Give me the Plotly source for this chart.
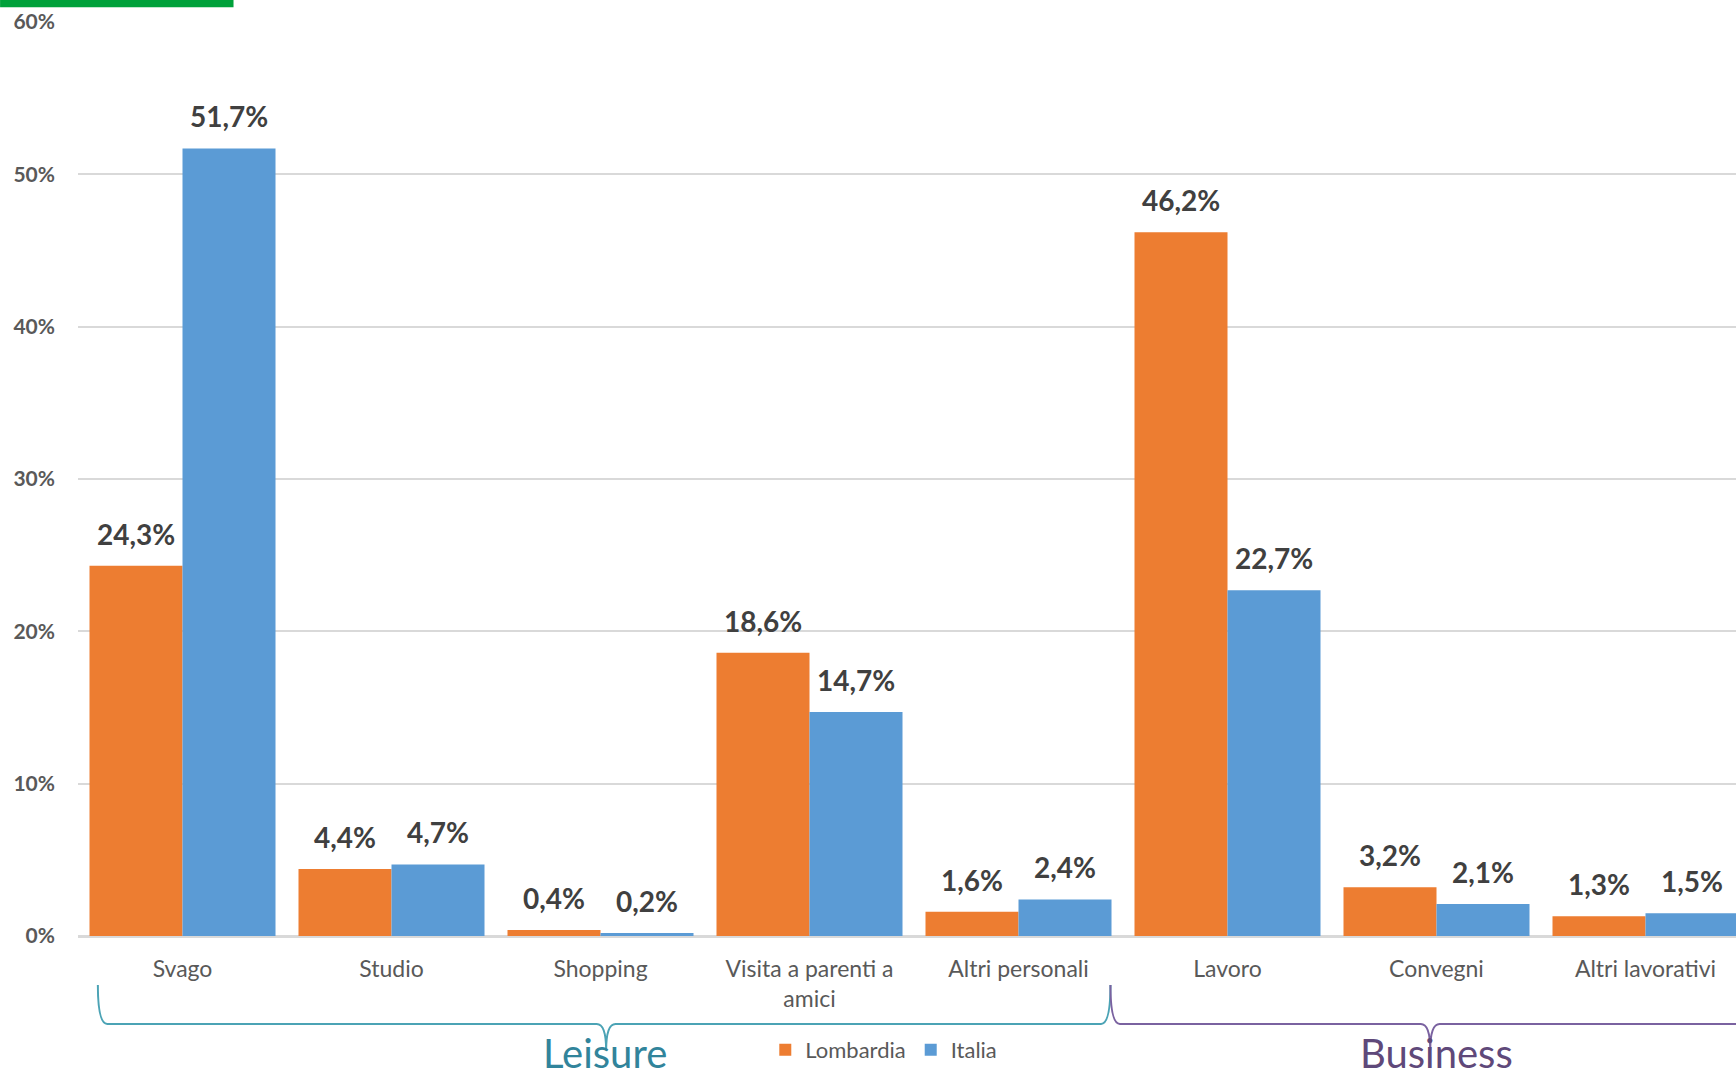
import plotly.graph_objects as go

categories = ["Svago", "Studio", "Shopping", "Visita a parenti a<br>amici",
              "Altri personali", "Lavoro", "Convegni", "Altri lavorativi"]
lombardia = [24.3, 4.4, 0.4, 18.6, 1.6, 46.2, 3.2, 1.3]
italia = [51.7, 4.7, 0.2, 14.7, 2.4, 22.7, 2.1, 1.5]
series_names = ["Lombardia", "Italia"]
groups = ["Leisure", "Business"]
y_ticks = [0, 10, 20, 30, 40, 50, 60]
y_ticktext = [f"{v}%" for v in y_ticks]

ORANGE = "#ED7D31"
BLUE = "#5B9BD5"
FONT = "Lato"
idx = list(range(len(categories)))

fig = go.Figure()
fig.add_trace(go.Bar(x=idx, y=lombardia, name=series_names[0],
                     marker=dict(color=ORANGE, line=dict(width=0))))
fig.add_trace(go.Bar(x=idx, y=italia, name=series_names[1],
                     marker=dict(color=BLUE, line=dict(width=0))))

bargap = 0.11
half = (1 - bargap) / 4  # centre offset of each bar in the group

annotations = []
for i, (a, b) in enumerate(zip(lombardia, italia)):
    for off, v in ((-half, a), (half, b)):
        annotations.append(dict(
            x=i + off, y=v, xref="x", yref="y",
            text=f"{v:.1f}%".replace(".", ","),
            showarrow=False, yanchor="bottom", yshift=13,
            font=dict(family=FONT, size=28, color="#404040", weight="bold")))

# group labels
annotations.append(dict(x=2.02, y=-0.0995, xref="x", yref="paper", text=groups[0],
                        showarrow=False, yanchor="top",
                        font=dict(family=FONT, size=40, color="#31849B")))
annotations.append(dict(x=6.0, y=-0.0995, xref="x", yref="paper", text=groups[1],
                        showarrow=False, yanchor="top",
                        font=dict(family=FONT, size=40, color="#5F497A")))


def brace(x0, xm, x1, top, line, tip, dx=0.045):
    return (f"M {x0},{top} Q {x0},{line} {x0+dx},{line} "
            f"L {xm-dx},{line} Q {xm},{line} {xm},{tip} "
            f"Q {xm},{line} {xm+dx},{line} "
            f"L {x1-dx},{line} Q {x1},{line} {x1},{top}")


TOP, LINE, TIP = -0.0536, -0.0962, -0.125
shapes = [
    dict(type="path", xref="x", yref="paper",
         path=brace(-0.405, 2.027, 4.44, TOP, LINE, TIP),
         line=dict(color="#4BA3B5", width=2)),
    dict(type="path", xref="x", yref="paper",
         path=brace(4.44, 5.97, 7.9, TOP, LINE, TIP),
         line=dict(color="#7A62A0", width=2)),
    dict(type="rect", xref="paper", yref="paper",
         x0=-0.047, x1=0.0938, y0=1.0162, y1=1.03,
         fillcolor="#00A13A", line=dict(width=0)),
]

fig.update_layout(
    width=1736, height=1068,
    margin=dict(l=78, r=0, t=22, b=132, autoexpand=False),
    plot_bgcolor="white", paper_bgcolor="white",
    barmode="group", bargap=bargap, bargroupgap=0,
    font=dict(family=FONT, color="#595959"),
    xaxis=dict(tickmode="array", tickvals=idx, ticktext=categories,
               range=[-0.5, 7.433], showgrid=False, zeroline=False,
               showline=False, ticks="", ticklabelstandoff=17,
               tickfont=dict(family=FONT, size=23, color="#595959")),
    yaxis=dict(range=[0, 60], tickmode="array", tickvals=y_ticks, ticktext=y_ticktext,
               showgrid=True, gridcolor="#D9D9D9", gridwidth=1.5,
               zeroline=True, zerolinecolor="#D9D9D9", zerolinewidth=3,
               showline=False, ticks="", ticklabelstandoff=22,
               tickfont=dict(family=FONT, size=21, color="#595959", weight="bold")),
    legend=dict(orientation="h", x=0.486, xanchor="center", y=-0.1246, yanchor="middle",
                font=dict(family=FONT, size=22, color="#595959"),
                itemwidth=30, bgcolor="rgba(0,0,0,0)"),
    annotations=annotations,
    shapes=shapes,
)

fig.write_html("out.html", config={"displayModeBar": False},
               post_script="document.body.style.margin='0';document.body.style.overflow='hidden';")
